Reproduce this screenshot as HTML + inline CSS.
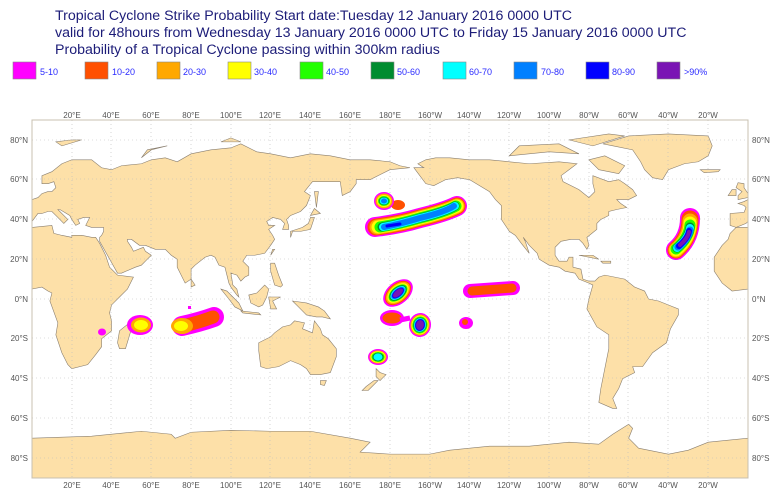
<!DOCTYPE html>
<html><head><meta charset="utf-8"><style>
body{margin:0;background:#fff;width:778px;height:496px;overflow:hidden;font-family:"Liberation Sans",sans-serif}
</style></head><body>
<svg width="778" height="496" viewBox="0 0 778 496" xmlns="http://www.w3.org/2000/svg" font-family="Liberation Sans, sans-serif">
<g fill="#1c1c78" font-size="14.2">
<text x="55" y="20">Tropical Cyclone Strike Probability Start date:Tuesday 12 January 2016 0000 UTC</text>
<text x="55" y="37">valid for 48hours from Wednesday 13 January 2016 0000 UTC to  Friday 15 January 2016 0000 UTC</text>
<text x="55" y="54">Probability of a Tropical Cyclone passing within 300km radius</text>
</g>
<g stroke="#888" stroke-width="0.6" font-size="9" fill="#2a2aff">
<rect x="13" y="62" width="23" height="17" fill="#ff00ff"/><text x="40" y="75" stroke="none">5-10</text>
<rect x="85" y="62" width="23" height="17" fill="#ff5000"/><text x="112" y="75" stroke="none">10-20</text>
<rect x="157" y="62" width="23" height="17" fill="#ffa800"/><text x="183" y="75" stroke="none">20-30</text>
<rect x="228" y="62" width="23" height="17" fill="#ffff00"/><text x="254" y="75" stroke="none">30-40</text>
<rect x="300" y="62" width="23" height="17" fill="#22ff00"/><text x="326" y="75" stroke="none">40-50</text>
<rect x="371" y="62" width="23" height="17" fill="#008c30"/><text x="397" y="75" stroke="none">50-60</text>
<rect x="443" y="62" width="23" height="17" fill="#00ffff"/><text x="469" y="75" stroke="none">60-70</text>
<rect x="514" y="62" width="23" height="17" fill="#0080ff"/><text x="541" y="75" stroke="none">70-80</text>
<rect x="586" y="62" width="23" height="17" fill="#0000ff"/><text x="612" y="75" stroke="none">80-90</text>
<rect x="657" y="62" width="23" height="17" fill="#7a14b4"/><text x="684" y="75" stroke="none">&gt;90%</text>
</g>
<!-- map -->
<g transform="translate(32,299) scale(1.9889,-1.9889)" fill="#fde0a8" stroke="#8a7f70" stroke-width="0.5" vector-effect="non-scaling-stroke">
<g stroke-width="0.6">
<path vector-effect="non-scaling-stroke" d="M0,36 L10,37 11,33 15,32 20,31 20,32 25,32 30,31 32,31 34,28 37,22 39,16 43,12 51,11 48,5 44,1 40,-3 39,-7 40,-11 40,-16 35,-20 35,-24 32,-28 28,-33 20,-35 18,-33 15,-27 12,-18 13,-12 9,-1 10,3 8,4 5,6 0,5Z"/>
<path vector-effect="non-scaling-stroke" d="M0,39 L3,43 5,43 8,44 10,44 12,42 16,38 18,40 13,45 14,45 19,42 20,40 22,37 24,38 23,40 26,41 29,41 27,37 30,36 36,36 36,34 35,32 34,31 34,29 43,13 45,13 52,16 55,17 58,20 60,22 57,24 56,26 51,24 50,26 48,29 48,30 50,30 54,27 57,27 62,25 67,25 70,22 73,20 73,16 75,12 77,8 80,10 80,15 82,17 87,21 90,22 92,21 94,17 97,16 98,12 99,8 100,6 103,2 104,1 103,5 101,7 100,13 103,12 105,9 107,11 109,12 109,16 106,19 108,22 112,22 117,23 120,27 122,30 121,32 119,35 122,37 119,37 118,39 121,41 125,40 127,38 126,35 129,35 129,37 128,40 130,42 135,44 138,47 140,52 137,54 141,59 150,59 155,59 156,52 160,54 163,58 163,60 170,60 180,65 190,66 185,67 180,69 170,70 160,70 150,72 140,73 130,71 120,73 113,74 105,78 100,76 90,75 80,73 73,69 67,71 60,70 55,68 45,67 40,65 35,66 30,70 20,70 15,68 10,64 5,62 5,58 8,58 11,59 12,56 10,54 8,54 5,53 3,51 0,50Z"/>
<path vector-effect="non-scaling-stroke" d="M44,-25 47,-25 50,-15 49,-12 44,-16 43,-22Z"/>
<path vector-effect="non-scaling-stroke" d="M114,-22 114,-26 115,-34 118,-35 124,-34 130,-31 135,-33 138,-35 140,-38 145,-38 150,-37 153,-29 153,-25 149,-20 146,-18 145,-15 142,-11 141,-17 136,-15 137,-12 132,-11 130,-13 126,-14 122,-17 120,-19Z"/>
<path vector-effect="non-scaling-stroke" d="M145,-41 148,-41 147,-43.5 145,-43Z"/>
<path vector-effect="non-scaling-stroke" d="M131,-1 138,-2 144,-4 147,-6 150,-10 146,-9 143,-9 138,-8 134,-4Z"/>
<path vector-effect="non-scaling-stroke" d="M109,2 110,-2 114,-4 116,-3 118,1 119,5 117,7 113,3Z"/>
<path vector-effect="non-scaling-stroke" d="M95,5 98,4 104,-2 106,-6 102,-4 99,0Z"/>
<path vector-effect="non-scaling-stroke" d="M105,-6 114,-7 115,-8 106,-7Z"/>
<path vector-effect="non-scaling-stroke" d="M119,1 125,1 121,-1 123,-5 120,-5Z"/>
<path vector-effect="non-scaling-stroke" d="M120,18 122,18 124,12 126,7 125,6 122,7 120,14Z"/>
<path vector-effect="non-scaling-stroke" d="M130,31 131,34 135,34 140,35 141,38 142,41 140,41 139,38 136,36 133,35 130,34Z"/>
<path vector-effect="non-scaling-stroke" d="M140,42 145,43 142,45.5Z"/>
<path vector-effect="non-scaling-stroke" d="M120,22 122,25 121,25Z"/>
<path vector-effect="non-scaling-stroke" d="M80,10 82,7 80,6Z"/>
<path vector-effect="non-scaling-stroke" d="M173,-35 175,-37 178,-38 177,-39 175,-41 173,-39Z"/>
<path vector-effect="non-scaling-stroke" d="M172,-41 174,-41 171,-44 169,-46 166,-46 168,-44Z"/>
<path vector-effect="non-scaling-stroke" d="M143,46 144,54 142,54Z"/>
<path vector-effect="non-scaling-stroke" d="M15,77 25,80 20,80 12,79Z"/>
<path vector-effect="non-scaling-stroke" d="M55,71 60,75 68,77 58,75Z"/>
<path vector-effect="non-scaling-stroke" d="M95,79 105,79 100,81Z"/>
<path vector-effect="non-scaling-stroke" d="M192,66 195,62 198,58 202,57 208,60 214,61 220,60 225,57 230,54 233,50 236,47 236,40 240,34 243,32 246,28 250,23 248,29 247,31 250,27 254,23 255,20 260,17 265,16 268,14 273,13 275,10 280,8 282,7 280,0 279,-5 284,-14 290,-18 290,-25 288,-35 286,-45 285,-52 292,-55 294,-55 292,-50 295,-45 297,-40 303,-37 302,-34 307,-34 312,-27 319,-22 321,-15 325,-8 325,-5 320,-3 315,-1 310,0 308,4 303,6 298,10 293,11 288,12 285,11 283,9 280,9 277,10 276,15 272,16 272,21 270,21 269,19 265,19 263,22 263,26 266,29 271,30 275,30 277,28 279,25 280,27 279,31 284,35 284,38 286,40 290,42 290,44 294,45 299,46 296,48 294,50 300,50 304,52 302,55 298,58 295,60 290,59 282,62 282,58 283,54 280,51 275,55 267,59 266,62 270,65 274,68 265,69 250,68 240,69 230,70 220,70 210,71 203,71 198,70 194,68 197,66Z"/>
<path vector-effect="non-scaling-stroke" d="M287,78 300,82 320,83 340,82 342,77 340,72 335,69 328,68 320,65 317,60 312,61 308,65 306,69 302,75 292,77Z"/>
<path vector-effect="non-scaling-stroke" d="M280,70 288,72 298,67 295,63 285,65Z"/>
<path vector-effect="non-scaling-stroke" d="M240,72 260,74 275,73 265,78 245,77Z"/>
<path vector-effect="non-scaling-stroke" d="M270,80 290,83 298,82 282,77Z"/>
<path vector-effect="non-scaling-stroke" d="M336,65 346,65 345,64 338,63.5Z"/>
<path vector-effect="non-scaling-stroke" d="M275,22 285,20 282,22Z"/>
<path vector-effect="non-scaling-stroke" d="M286,19 291,19 291,18 287,18Z"/>
<path vector-effect="non-scaling-stroke" d="M360,5 352,4 347,8 343,14 343,21 347,27 350,30 351,33 354,36 360,36Z"/>
<path vector-effect="non-scaling-stroke" d="M354,36 351,37 351,43 358,43.5 359,46 358,47 355,48 358,49 360,50 360,39 359,38Z"/>
<path vector-effect="non-scaling-stroke" d="M355,50 360,51 360,53 358,56 358,58 355,58.5 354,56 357,54 355,52Z"/>
<path vector-effect="non-scaling-stroke" d="M350,52 354,52 354,55 352,55Z"/>
<path vector-effect="non-scaling-stroke" d="M0,-70 30,-69 55,-66.5 70,-68 72,-70 80,-67 100,-66 120,-66.5 140,-66.5 160,-70 170,-72 165,-77 180,-78 200,-78 210,-76 230,-74 250,-74 270,-72 285,-73 292,-68 300,-63 302,-65 300,-70 305,-75 320,-78 330,-76 340,-72 350,-71 360,-70 360,-90 0,-90Z"/>
</g>
</g>
<!-- grid -->
<g stroke="#bbb" stroke-width="0.6" stroke-dasharray="1,3">
<path d="M72,120V478M111,120V478M151,120V478M191,120V478M231,120V478M270,120V478M310,120V478M350,120V478M390,120V478M430,120V478M469,120V478M509,120V478M549,120V478M589,120V478M628,120V478M668,120V478M708,120V478"/>
<path d="M32,140H748M32,179H748M32,219H748M32,259H748M32,299H748M32,338H748M32,378H748M32,418H748M32,458H748"/>
</g>
<rect x="32" y="120" width="716" height="358" fill="none" stroke="#c8c0b0" stroke-width="1"/>
<!-- cyclones -->
<g fill="none" stroke-linecap="round" stroke-linejoin="round">
<g>
<path d="M676,250 Q690,238 690,218" stroke="#ff00ff" stroke-width="20"/>
<path d="M676,250 Q690,238 690,219" stroke="#ff5000" stroke-width="17"/>
<path d="M676,250 Q690,238 690,221" stroke="#ffa800" stroke-width="15"/>
<path d="M676,250 Q690,238 690,223" stroke="#ffff00" stroke-width="13"/>
<path d="M676,249 Q689,238 690,225" stroke="#22ff00" stroke-width="11"/>
<path d="M677,248 Q689,238 690,227" stroke="#008c30" stroke-width="9"/>
<path d="M677,248 Q689,238 690,228" stroke="#00ffff" stroke-width="8"/>
<path d="M678,247 Q689,238 690,230" stroke="#0080ff" stroke-width="7"/>
<path d="M679,246 Q688,238 689,231" stroke="#0000ff" stroke-width="6"/>
<path d="M680,245 Q688,238 689,232" stroke="#7a14b4" stroke-width="4"/>
</g>
<g>
<path d="M375,227 Q400,224 420,218 Q445,212 457,206" stroke="#ff00ff" stroke-width="20"/>
<path d="M376,227 Q400,224 420,218 Q445,212 457,206" stroke="#ff5000" stroke-width="17"/>
<path d="M377,227 Q400,224 420,218 Q445,212 457,206" stroke="#ffa800" stroke-width="15"/>
<path d="M378,227 Q400,224 420,218 Q445,212 457,206" stroke="#ffff00" stroke-width="13"/>
<path d="M380,227 Q400,224 420,218 Q445,212 456,206" stroke="#22ff00" stroke-width="11"/>
<path d="M382,227 Q400,224 420,218 Q445,212 455,206" stroke="#008c30" stroke-width="9"/>
<path d="M383,227 Q400,224 420,218 Q445,212 455,206" stroke="#00ffff" stroke-width="8"/>
<path d="M384,227 Q400,224 420,218 Q445,212 454,206" stroke="#0080ff" stroke-width="6"/>
<path d="M387,226 L400,224" stroke="#0000ff" stroke-width="3"/>
</g>
</g>
<g>
<ellipse cx="398" cy="205" rx="7" ry="5" fill="#ff5000"/>
<ellipse cx="384" cy="201" rx="10" ry="9" fill="#ff00ff"/>
<ellipse cx="384" cy="201" rx="8.5" ry="7.5" fill="#ffa800"/>
<ellipse cx="384" cy="201" rx="7" ry="6" fill="#ffff00"/>
<ellipse cx="384" cy="201" rx="6" ry="5" fill="#22ff00"/>
<ellipse cx="384" cy="201" rx="5" ry="4" fill="#008c30"/>
<ellipse cx="384" cy="201" rx="4.3" ry="3.5" fill="#00ffff"/>
<ellipse cx="384" cy="201" rx="3" ry="2.5" fill="#0080ff"/>
<g transform="translate(398,293) rotate(-40)">
<ellipse rx="17" ry="11" fill="#ff00ff"/><ellipse rx="15" ry="9.5" fill="#ff5000"/><ellipse rx="14" ry="8.5" fill="#ffa800"/><ellipse rx="12.5" ry="7.5" fill="#ffff00"/><ellipse rx="11" ry="6.5" fill="#22ff00"/><ellipse rx="10" ry="5.8" fill="#008c30"/><ellipse rx="9" ry="5" fill="#00ffff"/><ellipse rx="8" ry="4.3" fill="#0080ff"/><ellipse rx="7" ry="3.7" fill="#0000ff"/><ellipse rx="6" ry="3" fill="#7a14b4"/></g>
<ellipse cx="392" cy="318" rx="12" ry="8" fill="#ff00ff"/>
<ellipse cx="392" cy="318" rx="9.5" ry="5.5" fill="#ff5000"/>
<path d="M400,320 L410,318" stroke="#ff00ff" stroke-width="5"/>
<g transform="translate(420,325) rotate(10)">
<ellipse rx="11" ry="12" fill="#ff00ff"/><ellipse rx="9.5" ry="10.5" fill="#ffa800"/><ellipse rx="8.5" ry="9.5" fill="#ffff00"/><ellipse rx="7.5" ry="8.5" fill="#22ff00"/><ellipse rx="6.5" ry="7.5" fill="#008c30"/><ellipse rx="6" ry="7" fill="#00ffff"/><ellipse rx="5.3" ry="6.3" fill="#0080ff"/><ellipse rx="4.8" ry="5.8" fill="#0000ff"/><ellipse rx="4" ry="5" fill="#7a14b4"/></g>
<path d="M470,291 L513,288" stroke="#ff00ff" stroke-width="14" stroke-linecap="round"/>
<path d="M472,291 L512,288" stroke="#ff5000" stroke-width="9" stroke-linecap="round"/>
<ellipse cx="466" cy="323" rx="7" ry="6" fill="#ff00ff"/>
<ellipse cx="465" cy="322" rx="3" ry="3" fill="#ff5000"/>
<g transform="translate(378,357)">
<ellipse rx="10" ry="8" fill="#ff00ff"/><ellipse rx="8.5" ry="6.5" fill="#ffa800"/><ellipse rx="7.5" ry="5.8" fill="#ffff00"/><ellipse rx="6.5" ry="5" fill="#22ff00"/><ellipse rx="5.5" ry="4.3" fill="#008c30"/><ellipse rx="4.5" ry="3.6" fill="#00ffff"/></g>
<ellipse cx="140" cy="325" rx="13" ry="10" fill="#ff00ff"/>
<ellipse cx="141" cy="325" rx="10" ry="7.5" fill="#ffa800"/>
<ellipse cx="141" cy="325" rx="7" ry="5" fill="#ffff00"/>
<path d="M182,326 Q200,322 214,317" stroke="#ff00ff" stroke-width="20" stroke-linecap="round" fill="none"/>
<path d="M183,326 Q200,322 213,317" stroke="#ff5000" stroke-width="13" stroke-linecap="round" fill="none"/>
<ellipse cx="182" cy="326" rx="11" ry="8" fill="#ffa800"/>
<ellipse cx="181" cy="326" rx="7" ry="5" fill="#ffff00"/>
<rect x="188" y="306" width="3" height="3" fill="#ff00ff"/>
<ellipse cx="102" cy="332" rx="4" ry="3.5" fill="#ff00ff"/>
</g>
<!-- labels -->
<g font-size="8" fill="#555" text-anchor="middle">
<text x="72" y="118">20°E</text><text x="111" y="118">40°E</text><text x="151" y="118">60°E</text><text x="191" y="118">80°E</text><text x="231" y="118">100°E</text><text x="270" y="118">120°E</text><text x="310" y="118">140°E</text><text x="350" y="118">160°E</text><text x="390" y="118">180°E</text><text x="430" y="118">160°W</text><text x="469" y="118">140°W</text><text x="509" y="118">120°W</text><text x="549" y="118">100°W</text><text x="589" y="118">80°W</text><text x="628" y="118">60°W</text><text x="668" y="118">40°W</text><text x="708" y="118">20°W</text>
<text x="72" y="488">20°E</text><text x="111" y="488">40°E</text><text x="151" y="488">60°E</text><text x="191" y="488">80°E</text><text x="231" y="488">100°E</text><text x="270" y="488">120°E</text><text x="310" y="488">140°E</text><text x="350" y="488">160°E</text><text x="390" y="488">180°E</text><text x="430" y="488">160°W</text><text x="469" y="488">140°W</text><text x="509" y="488">120°W</text><text x="549" y="488">100°W</text><text x="589" y="488">80°W</text><text x="628" y="488">60°W</text><text x="668" y="488">40°W</text><text x="708" y="488">20°W</text>
</g>
<g font-size="8" fill="#555">
<g text-anchor="end">
<text x="28" y="143">80°N</text><text x="28" y="182">60°N</text><text x="28" y="222">40°N</text><text x="28" y="262">20°N</text><text x="28" y="302">0°N</text><text x="28" y="341">20°S</text><text x="28" y="381">40°S</text><text x="28" y="421">60°S</text><text x="28" y="461">80°S</text>
</g>
<text x="752" y="143">80°N</text><text x="752" y="182">60°N</text><text x="752" y="222">40°N</text><text x="752" y="262">20°N</text><text x="752" y="302">0°N</text><text x="752" y="341">20°S</text><text x="752" y="381">40°S</text><text x="752" y="421">60°S</text><text x="752" y="461">80°S</text>
</g>
</svg>
</body></html>
